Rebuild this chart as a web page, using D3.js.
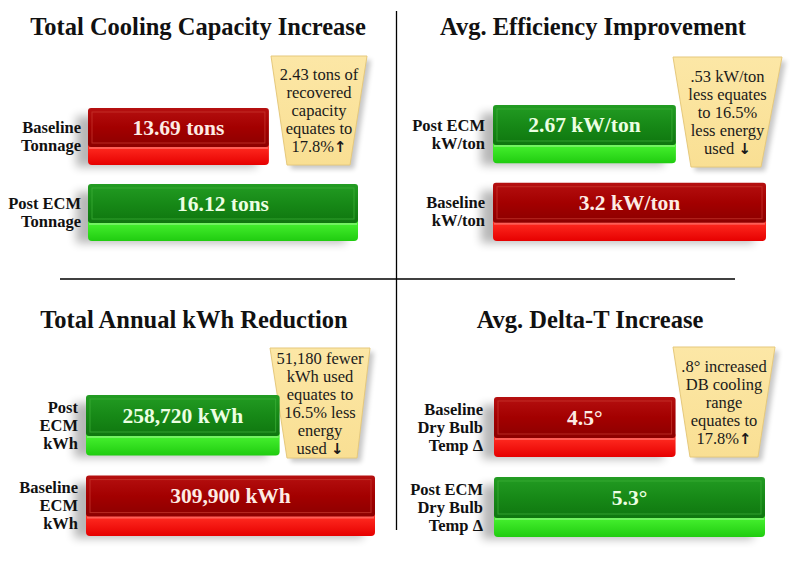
<!DOCTYPE html>
<html>
<head>
<meta charset="utf-8">
<script src="https://cdn.jsdelivr.net/npm/d3@7"></script>
<style>
  html, body { margin: 0; padding: 0; background: #ffffff; }
  svg { display: block; }
</style>
</head>
<body>
<svg id="chart" width="792" height="565"></svg>
<script>
// ---------------- DATA ----------------
const titles = ["Total Cooling Capacity Increase", "Avg. Efficiency Improvement", "Total Annual kWh Reduction", "Avg. Delta-T Increase"];

const p1Labels = [["Baseline", "Tonnage"], ["Post ECM", "Tonnage"]];
const p1Kinds = ["baseline", "post"];
const p1Values = [13.69, 16.12];
const p1Unit = " tons";
const p1Note = ["2.43 tons of", "recovered", "capacity", "equates to", "17.8%↑"];

const p2Labels = [["Post ECM", "kW/ton"], ["Baseline", "kW/ton"]];
const p2Kinds = ["post", "baseline"];
const p2Values = [2.67, 3.2];
const p2Unit = " kW/ton";
const p2Note = [".53 kW/ton", "less equates", "to 16.5%", "less energy", "used ↓"];

const p3Labels = [["Post", "ECM", "kWh"], ["Baseline", "ECM", "kWh"]];
const p3Kinds = ["post", "baseline"];
const p3Values = [258720, 309900];
const p3Unit = " kWh";
const p3Note = ["51,180 fewer", "kWh used", "equates to", "16.5% less", "energy", "used ↓"];

const p4Labels = [["Baseline", "Dry Bulb", "Temp Δ"], ["Post ECM", "Dry Bulb", "Temp Δ"]];
const p4Kinds = ["baseline", "post"];
const p4Values = [4.5, 5.3];
const p4Unit = "°";
const p4Note = [".8° increased", "DB cooling", "range", "equates to", "17.8%↑"];

// ---------------- LAYOUT ----------------
const panels = [
  { title: titles[0], labels: p1Labels, kinds: p1Kinds, values: p1Values, unit: p1Unit, note: p1Note,
    tx: 198, ty: 35, x0: 88, x1: 358, y0: 108, y1: 241, labelX: 81,
    call: { top: 56, bot: 165, tl: 271, tr: 367, bl: 287, br: 350 } },
  { title: titles[1], labels: p2Labels, kinds: p2Kinds, values: p2Values, unit: p2Unit, note: p2Note,
    tx: 593, ty: 35, x0: 493, x1: 766, y0: 105, y1: 241, labelX: 485,
    call: { top: 57, bot: 167, tl: 673, tr: 782, bl: 691, br: 761 } },
  { title: titles[2], labels: p3Labels, kinds: p3Kinds, values: p3Values, unit: p3Unit, note: p3Note,
    tx: 194, ty: 328, x0: 86, x1: 375, y0: 395, y1: 536, labelX: 78,
    call: { top: 348, bot: 458, tl: 270, tr: 370, bl: 287, br: 357 } },
  { title: titles[3], labels: p4Labels, kinds: p4Kinds, values: p4Values, unit: p4Unit, note: p4Note,
    tx: 590, ty: 328, x0: 494, x1: 765, y0: 397, y1: 537, labelX: 483,
    call: { top: 347, bot: 457, tl: 673, tr: 775, bl: 690, br: 758 } }
];

function pickFont(cands) {
  const ctx = document.createElement("canvas").getContext("2d");
  const sample = "Total Cooling Capacity 0123456789 WMmil";
  const base = {};
  ["monospace", "sans-serif"].forEach(b => { ctx.font = "40px " + b; base[b] = ctx.measureText(sample).width; });
  for (const f of cands) {
    let ok = false;
    for (const b of ["monospace", "sans-serif"]) {
      ctx.font = "40px \"" + f + "\", " + b;
      if (Math.abs(ctx.measureText(sample).width - base[b]) > 0.5) ok = true;
    }
    if (ok) return "\"" + f + "\", serif";
  }
  return "serif";
}
const SERIF = pickFont(["Liberation Serif", "Tinos", "Times New Roman", "Noto Serif", "DejaVu Serif", "FreeSerif", "Times"]);

const svg = d3.select("#chart");
const defs = svg.append("defs");

function vGrad(id, stops) {
  const g = defs.append("linearGradient").attr("id", id).attr("x1", 0).attr("y1", 0).attr("x2", 0).attr("y2", 1);
  stops.forEach(s => g.append("stop").attr("offset", s[0]).attr("stop-color", s[1]));
}
vGrad("redTop", [[0, "#b51010"], [0.5, "#a30000"], [1, "#8c0000"]]);
vGrad("redFront", [[0, "#ff5a4a"], [0.25, "#ff2a20"], [1, "#e60000"]]);
vGrad("greenTop", [[0, "#239c23"], [0.5, "#178917"], [1, "#0f760f"]]);
vGrad("greenFront", [[0, "#7dff6a"], [0.25, "#45f02e"], [1, "#20cc10"]]);
vGrad("callFill", [[0, "#fce7a6"], [1, "#f9df93"]]);

defs.append("filter").attr("id", "blur").attr("x", "-30%").attr("y", "-30%").attr("width", "160%").attr("height", "160%")
  .append("feGaussianBlur").attr("stdDeviation", 5);
defs.append("filter").attr("id", "blurS").attr("x", "-30%").attr("y", "-30%").attr("width", "160%").attr("height", "160%")
  .append("feGaussianBlur").attr("stdDeviation", 2.5);

const topFill = d3.scaleOrdinal().domain(["baseline", "post"]).range(["url(#redTop)", "url(#greenTop)"]);
const frontFill = d3.scaleOrdinal().domain(["baseline", "post"]).range(["url(#redFront)", "url(#greenFront)"]);
const rimColor = d3.scaleOrdinal().domain(["baseline", "post"]).range(["#c93a30", "#3fb23a"]);
const textColor = d3.scaleOrdinal().domain(["baseline", "post"]).range(["#fdebe4", "#ecffe2"]);

const fmt = d3.format(",");
const SMALL_RATIO = 0.67;

svg.append("line").attr("x1", 396.5).attr("x2", 396.5).attr("y1", 11).attr("y2", 530)
  .attr("stroke", "#000").attr("stroke-width", 1.3);
svg.append("line").attr("x1", 60).attr("x2", 735).attr("y1", 279).attr("y2", 279)
  .attr("stroke", "#000").attr("stroke-width", 1.3);

panels.forEach(p => {
  const g = svg.append("g");
  const vmin = d3.min(p.values), vmax = d3.max(p.values);
  const lo = (vmin - SMALL_RATIO * vmax) / (1 - SMALL_RATIO);
  const x = d3.scaleLinear().domain([lo, vmax]).range([p.x0, p.x1]);
  const y = d3.scaleBand().domain(d3.range(p.values.length)).range([p.y0, p.y1]).paddingInner(0.25);

  g.append("text").attr("x", p.tx).attr("y", p.ty).attr("text-anchor", "middle")
    .style("font-family", SERIF).attr("font-weight", "bold").attr("font-size", 24.5).attr("fill", "#111")
    .text(p.title);

  const c = p.call;
  const pts = [[c.tl, c.top], [c.tr, c.top], [c.br, c.bot], [c.bl, c.bot]];
  g.append("polygon").attr("points", pts.map(d => [d[0] + 4, d[1] + 4].join(",")).join(" "))
    .attr("fill", "#000").attr("opacity", 0.22).attr("filter", "url(#blurS)");
  g.append("polygon").attr("points", pts.map(d => d.join(",")).join(" "))
    .attr("fill", "url(#callFill)").attr("stroke", "#e6c97c").attr("stroke-width", 1);
  const cx = (c.tl + c.tr) / 2;
  const lh = 18;
  const cy = (c.top + c.bot) / 2;
  const startY = cy - (p.note.length - 1) / 2 * lh + 5.5;
  p.note.forEach((line, i) => {
    const t = g.append("text").attr("x", cx).attr("y", startY + i * lh).attr("text-anchor", "middle")
      .style("font-family", SERIF).attr("font-size", 16.5).attr("fill", "#1a1a1a");
    const m = line.match(/^(.*?)([↑↓])$/);
    if (m) {
      t.append("tspan").text(m[1]);
      t.append("tspan").style("font-family", "'DejaVu Sans', sans-serif").attr("font-weight", "bold")
        .attr("font-size", 15).text(m[2]);
    } else {
      t.text(line);
    }
  });

  p.values.forEach((v, i) => {
    const kind = p.kinds[i];
    const bx = p.x0, by = y(i), bw = x(v) - p.x0, bh = y.bandwidth();
    const topH = Math.round(bh * 0.68);
    const bg = g.append("g");
    bg.append("rect").attr("x", bx - 12).attr("y", by + 8).attr("width", bw).attr("height", bh - 6)
      .attr("fill", "#000").attr("opacity", 0.28).attr("filter", "url(#blur)");
    bg.append("rect").attr("x", bx).attr("y", by + topH - 6).attr("width", bw).attr("height", bh - topH + 6)
      .attr("rx", 4).attr("fill", frontFill(kind));
    bg.append("rect").attr("x", bx).attr("y", by).attr("width", bw).attr("height", topH)
      .attr("rx", 3).attr("fill", topFill(kind));
    bg.append("rect").attr("x", bx + 4).attr("y", by + 4).attr("width", bw - 8).attr("height", topH - 8)
      .attr("fill", "none").attr("stroke", rimColor(kind)).attr("stroke-width", 1).attr("opacity", 0.7);
    bg.append("rect").attr("x", bx + 1).attr("y", by + topH).attr("width", bw - 2).attr("height", 2)
      .attr("fill", "#fff").attr("opacity", 0.25);
    bg.append("text").attr("x", bx + bw / 2).attr("y", by + topH * 0.5 + 7).attr("text-anchor", "middle")
      .style("font-family", SERIF).attr("font-weight", "bold").attr("font-size", 21.5).attr("fill", textColor(kind))
      .text(fmt(v) + p.unit);
    const lines = p.labels[i];
    const llh = 18;
    const center = by + bh / 2;
    lines.forEach((ln, j) => {
      g.append("text").attr("x", p.labelX).attr("y", center + (j - (lines.length - 1) / 2) * llh + 5.5)
        .attr("text-anchor", "end").style("font-family", SERIF).attr("font-weight", "bold")
        .attr("font-size", 16.5).attr("fill", "#111").text(ln);
    });
  });
});
</script>
</body>
</html>
